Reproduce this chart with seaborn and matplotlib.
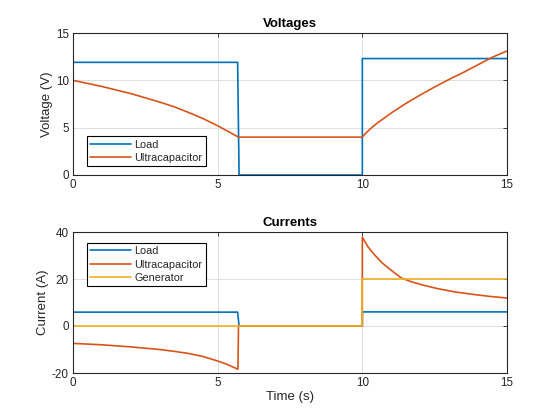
import matplotlib
matplotlib.use("Agg")
import matplotlib.pyplot as plt
import seaborn as sns
import pandas as pd

# ---- data ----
v_load_t = [0, 5.69, 5.74, 10.0, 10.0, 15]
v_load = [11.9, 11.9, 0, 0, 12.3, 12.3]

v_uc_t = [0, 1, 2, 3, 3.5, 4, 4.5, 5, 5.3, 5.72, 10.0, 10.1, 10.25, 10.5, 11, 11.5,
          12, 12.5, 13, 13.5, 14, 14.5, 15]
v_uc = [10, 9.35, 8.6, 7.7, 7.2, 6.6, 5.95, 5.2, 4.7, 4.0, 4.0, 4.35, 4.8, 5.45, 6.55,
        7.55, 8.45, 9.3, 10.1, 10.85, 11.65, 12.45, 13.1]

i_load_t = [0, 5.69, 5.74, 10.0, 10.0, 15]
i_load = [5.9, 5.9, 0, 0, 6.0, 6.0]

i_uc_t = [0, 1, 2, 3, 3.5, 4, 4.5, 5, 5.3, 5.5, 5.7, 5.72, 10.0, 10.0, 10.2, 10.45,
          10.7, 11, 11.35, 11.7, 12.1, 12.6, 13.2, 13.8, 14.4, 15]
i_uc = [-7.4, -8.0, -8.9, -10.0, -10.8, -11.7, -13.0, -14.9, -16.2, -17.3, -18.4, 0,
        0, 37.8, 33.6, 29.9, 26.7, 23.7, 20.4, 18.8, 17.4, 15.9, 14.5, 13.5, 12.6, 11.9]

i_gen_t = [0, 10.0, 10.0, 15]
i_gen = [0, 0, 20, 20]

colors = {"Load": "#0072BD", "Ultracapacitor": "#D95319", "Generator": "#EDB120"}

def frame(series):
    rows = []
    for name, t, y in series:
        for a, b in zip(t, y):
            rows.append({"t": a, "y": b, "series": name})
    return pd.DataFrame(rows)

df_v = frame([("Load", v_load_t, v_load), ("Ultracapacitor", v_uc_t, v_uc)])
df_i = frame([("Load", i_load_t, i_load), ("Ultracapacitor", i_uc_t, i_uc),
              ("Generator", i_gen_t, i_gen)])

sns.set_theme(style="white")
plt.rcParams["font.family"] = ["Liberation Sans", "DejaVu Sans"]
plt.rcParams["axes.unicode_minus"] = False

fig = plt.figure(figsize=(5.6, 4.2), dpi=100)
ax1 = fig.add_axes([73 / 560, (420 - 175) / 420, 434 / 560, 142 / 420])
ax2 = fig.add_axes([73 / 560, (420 - 373) / 420, 434 / 560, 141 / 420])

dark = "#262626"

def style(ax, yticks, ylim, title, ylabel):
    ax.set_xlim(0, 15)
    ax.set_ylim(*ylim)
    ax.set_xticks([0, 5, 10, 15])
    ax.set_yticks(yticks)
    ax.grid(True, color="#DFDFDF", linewidth=0.7)
    ax.set_axisbelow(True)
    for s in ax.spines.values():
        s.set_visible(True)
        s.set_color(dark)
        s.set_linewidth(0.8)
    ax.tick_params(direction="in", length=3, width=0.6, top=True, right=True,
                   colors=dark, labelsize=8.4, pad=3)
    ax.set_title(title, fontsize=9.5, fontweight="bold", color="black", pad=4)
    ax.set_ylabel(ylabel, fontsize=9.5, color=dark, labelpad=2)

sns.lineplot(data=df_v, x="t", y="y", hue="series",
             palette=colors, estimator=None, sort=False, linewidth=1.2, ax=ax1)
sns.lineplot(data=df_i, x="t", y="y", hue="series",
             palette=colors, estimator=None, sort=False, linewidth=1.2, ax=ax2)

style(ax1, [0, 5, 10, 15], (0, 15), "Voltages", "Voltage (V)")
style(ax2, [-20, 0, 20, 40], (-20, 40), "Currents", "Current (A)")
ax1.set_xlabel("")
ax2.set_xlabel("Time (s)", fontsize=9.5, color=dark, labelpad=1)

def legend(ax, loc, anchor):
    h, l = ax.get_legend_handles_labels()
    leg = ax.legend(h, l, loc=loc, bbox_to_anchor=anchor, borderaxespad=0,
                    fancybox=False, framealpha=1, edgecolor="black", fontsize=7.8,
                    handlelength=3.8, handletextpad=0.3, labelspacing=0.3,
                    borderpad=0.3)
    leg.get_frame().set_linewidth(0.8)

legend(ax1, "lower left", (13.7 / 434, 9 / 142))
legend(ax2, "upper left", (13.7 / 434, 1 - 11 / 141))

fig.savefig("out.png", dpi=100)
